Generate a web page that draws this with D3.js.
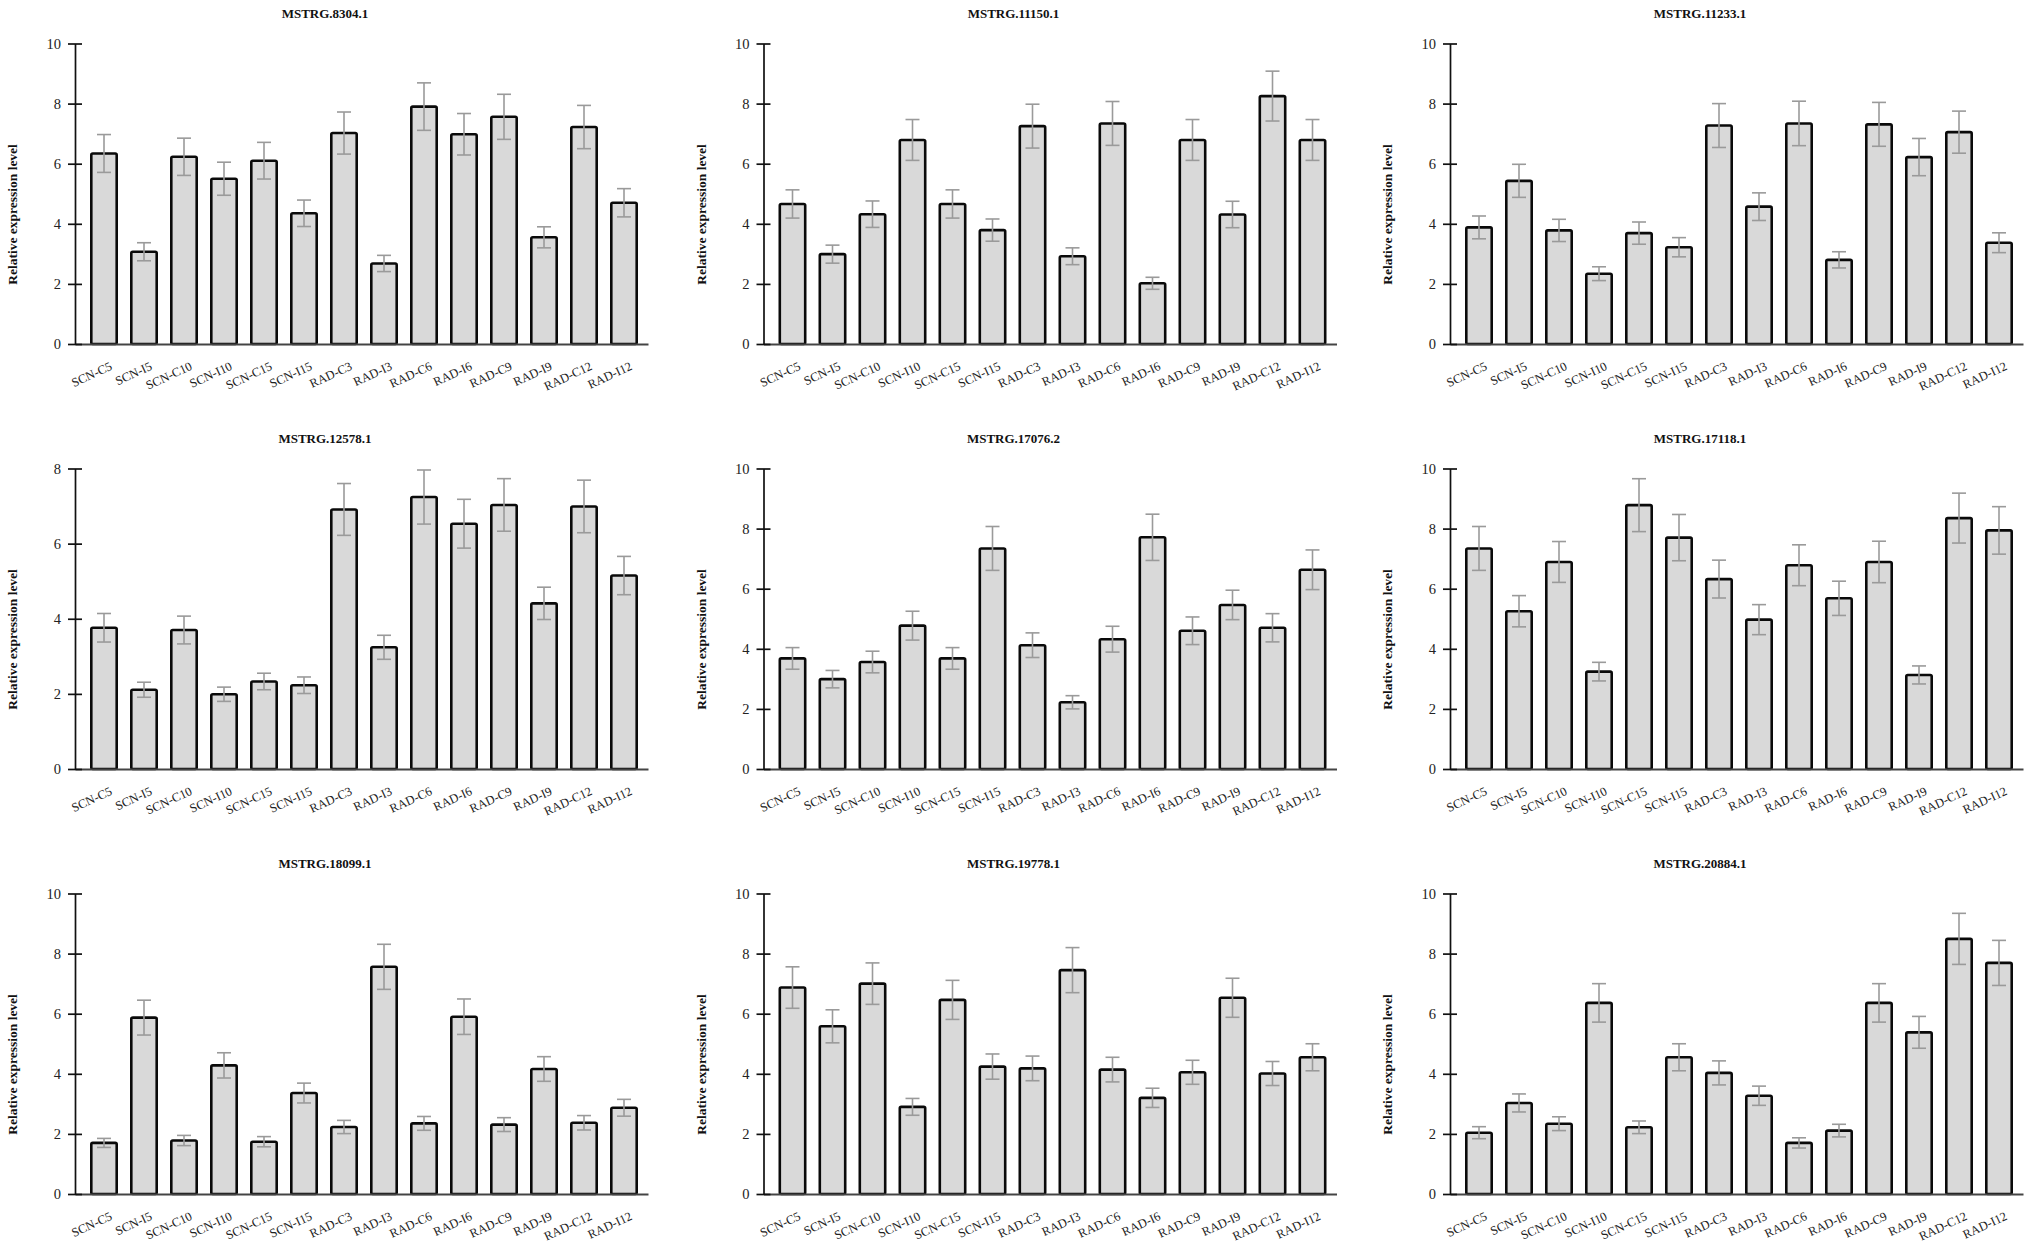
<!DOCTYPE html>
<html>
<head>
    <title>Relative expression of MSTRG transcripts</title>
    <script src="https://d3js.org/d3.v7.min.js"></script>
    <style>
        body {
            margin: 0;
            background: #fff;
        }
        text {
            font-family: "Liberation Serif", "Times New Roman", serif;
        }
    </style>
</head>
<body>
    <div id="chart"></div>
    <script>
        let samples = ["SCN-C5", "SCN-I5", "SCN-C10", "SCN-I10", "SCN-C15", "SCN-I15", "RAD-C3", "RAD-I3", "RAD-C6", "RAD-I6", "RAD-C9", "RAD-I9", "RAD-C12", "RAD-I12"];
        let genes = ["MSTRG.8304.1", "MSTRG.11150.1", "MSTRG.11233.1", "MSTRG.12578.1", "MSTRG.17076.2", "MSTRG.17118.1", "MSTRG.18099.1", "MSTRG.19778.1", "MSTRG.20884.1"];
        let yMax = [10, 10, 10, 8, 10, 10, 10, 10, 10];
        let yTicks10 = [0, 2, 4, 6, 8, 10];
        let yTicks8 = [0, 2, 4, 6, 8];

        // means and error half-widths, in sample order
        let mean8304 = [6.34, 3.07, 6.23, 5.50, 6.10, 4.35, 7.02, 2.68, 7.90, 6.98, 7.56, 3.55, 7.22, 4.70];
        let err8304 = [0.63, 0.30, 0.62, 0.55, 0.61, 0.44, 0.70, 0.27, 0.79, 0.69, 0.75, 0.35, 0.72, 0.47];
        let mean11150 = [4.66, 2.99, 4.32, 6.79, 4.66, 3.79, 7.25, 2.92, 7.34, 2.02, 6.79, 4.31, 8.25, 6.79];
        let err11150 = [0.47, 0.30, 0.44, 0.68, 0.47, 0.37, 0.73, 0.28, 0.73, 0.20, 0.68, 0.44, 0.83, 0.68];
        let mean11233 = [3.88, 5.43, 3.78, 2.34, 3.69, 3.22, 7.27, 4.57, 7.34, 2.80, 7.31, 6.22, 7.05, 3.37];
        let err11233 = [0.38, 0.55, 0.37, 0.23, 0.37, 0.32, 0.73, 0.46, 0.74, 0.27, 0.73, 0.62, 0.70, 0.33];
        let mean12578 = [3.76, 2.11, 3.70, 1.99, 2.33, 2.23, 6.91, 3.24, 7.24, 6.53, 7.03, 4.41, 6.99, 5.15];
        let err12578 = [0.38, 0.20, 0.37, 0.19, 0.22, 0.22, 0.69, 0.32, 0.72, 0.65, 0.70, 0.43, 0.70, 0.51];
        let mean17076 = [3.68, 2.99, 3.56, 4.77, 3.68, 7.34, 4.12, 2.22, 4.32, 7.71, 4.60, 5.46, 4.70, 6.63];
        let err17076 = [0.36, 0.29, 0.36, 0.48, 0.36, 0.73, 0.41, 0.22, 0.43, 0.77, 0.46, 0.49, 0.47, 0.66];
        let mean17118 = [7.34, 5.25, 6.89, 3.24, 8.78, 7.70, 6.32, 4.97, 6.78, 5.68, 6.89, 3.13, 8.35, 7.94];
        let err17118 = [0.73, 0.52, 0.68, 0.31, 0.88, 0.77, 0.63, 0.50, 0.68, 0.57, 0.69, 0.30, 0.83, 0.79];
        let mean18099 = [1.70, 5.87, 1.78, 4.28, 1.74, 3.36, 2.23, 7.56, 2.35, 5.90, 2.31, 4.16, 2.37, 2.87];
        let err18099 = [0.15, 0.58, 0.17, 0.42, 0.17, 0.33, 0.22, 0.75, 0.23, 0.59, 0.23, 0.41, 0.24, 0.28];
        let mean19778 = [6.87, 5.58, 7.00, 2.90, 6.46, 4.24, 4.18, 7.45, 4.14, 3.20, 4.05, 6.53, 4.01, 4.55];
        let err19778 = [0.69, 0.55, 0.69, 0.28, 0.65, 0.42, 0.41, 0.75, 0.41, 0.32, 0.40, 0.65, 0.40, 0.45];
        let mean20884 = [2.04, 3.03, 2.34, 6.36, 2.22, 4.55, 4.03, 3.27, 1.70, 2.11, 6.36, 5.38, 8.49, 7.69];
        let err20884 = [0.20, 0.30, 0.23, 0.64, 0.21, 0.45, 0.40, 0.32, 0.17, 0.21, 0.64, 0.53, 0.85, 0.75];

        let means = [mean8304, mean11150, mean11233, mean12578, mean17076, mean17118, mean18099, mean19778, mean20884];
        let errors = [err8304, err11150, err11233, err12578, err17076, err17118, err18099, err19778, err20884];

        let width = 2032;
        let height = 1251;
        let colX = [75, 763.5, 1450];
        let rowY = [43.5, 468.5, 893.5];
        let plotW = 573;
        let plotH = 300.5;
        let barStroke = 2.6;

        let svg = d3.select("#chart").append("svg")
            .attr("width", width)
            .attr("height", height)
            .attr("viewBox", [0, 0, width, height]);

        let x = d3.scaleBand()
            .domain(samples)
            .range([0, plotW])
            .paddingInner(0.3)
            .paddingOuter(0.3125)
            .align(0.6);

        genes.forEach((gene, gi) => {
            let ox = colX[gi % 3];
            let oy = rowY[Math.floor(gi / 3)];
            let rows = samples.map((s, i) => ({sample: s, value: means[gi][i], err: errors[gi][i]}));

            let y = d3.scaleLinear()
                .domain([0, yMax[gi]])
                .range([plotH, 0]);

            let g = svg.append("g")
                .attr("transform", `translate(${ox},${oy})`);

            // title
            g.append("text")
                .attr("x", 250)
                .attr("y", -26)
                .attr("text-anchor", "middle")
                .attr("font-size", 13)
                .attr("font-weight", "bold")
                .attr("fill", "#111")
                .text(gene);

            // y label
            g.append("text")
                .attr("transform", `translate(-58,171) rotate(-90)`)
                .attr("text-anchor", "middle")
                .attr("font-size", 13.5)
                .attr("font-weight", "bold")
                .attr("fill", "#111")
                .text("Relative expression level");

            // bars
            g.append("g")
                .selectAll("rect")
                .data(rows)
                .join("rect")
                .attr("x", d => x(d.sample) + barStroke / 2)
                .attr("y", d => y(d.value))
                .attr("width", x.bandwidth() - barStroke)
                .attr("height", d => y(0) - y(d.value))
                .attr("rx", 1.5)
                .attr("fill", "#d9d9d9")
                .attr("stroke", "#0a0a0a")
                .attr("stroke-width", barStroke)
                .attr("stroke-linejoin", "round");

            // error bars
            let eb = g.append("g")
                .attr("stroke", "#9a9a9a")
                .attr("stroke-width", 1.6)
                .selectAll("g")
                .data(rows)
                .join("g")
                .attr("transform", d => `translate(${x(d.sample) + x.bandwidth() / 2},0)`);
            eb.append("line")
                .attr("y1", d => y(d.value + d.err))
                .attr("y2", d => y(d.value - d.err));
            eb.append("line")
                .attr("x1", -7).attr("x2", 7)
                .attr("y1", d => y(d.value + d.err))
                .attr("y2", d => y(d.value + d.err));
            eb.append("line")
                .attr("x1", -7).attr("x2", 7)
                .attr("y1", d => y(d.value - d.err))
                .attr("y2", d => y(d.value - d.err));

            // x axis
            g.append("g")
                .attr("transform", `translate(0,${plotH})`)
                .call(d3.axisBottom(x).tickSize(0).tickSizeOuter(0))
                .call(a => a.select(".domain").attr("stroke", "#444").attr("stroke-width", 2))
                .call(a => a.selectAll(".tick text")
                    .attr("x", 0).attr("y", 0).attr("dy", 0)
                    .attr("transform", "translate(9,25) rotate(-25)")
                    .attr("text-anchor", "end")
                    .attr("font-size", 12.5)
                    .attr("font-family", null)
                    .attr("fill", "#222"));

            // y axis
            g.append("g")
                .call(d3.axisLeft(y).tickValues(yMax[gi] === 8 ? yTicks8 : yTicks10).tickSizeOuter(0))
                .call(a => a.select(".domain").attr("stroke", "#111").attr("stroke-width", 1.7))
                .call(a => a.selectAll(".tick line").attr("x1", -7).attr("x2", 7).attr("stroke", "#111").attr("stroke-width", 1.7))
                .call(a => a.selectAll(".tick text")
                    .attr("x", -14)
                    .attr("font-size", 14.5)
                    .attr("font-family", null)
                    .attr("fill", "#222"));
        });
    </script>
</body>
</html>
